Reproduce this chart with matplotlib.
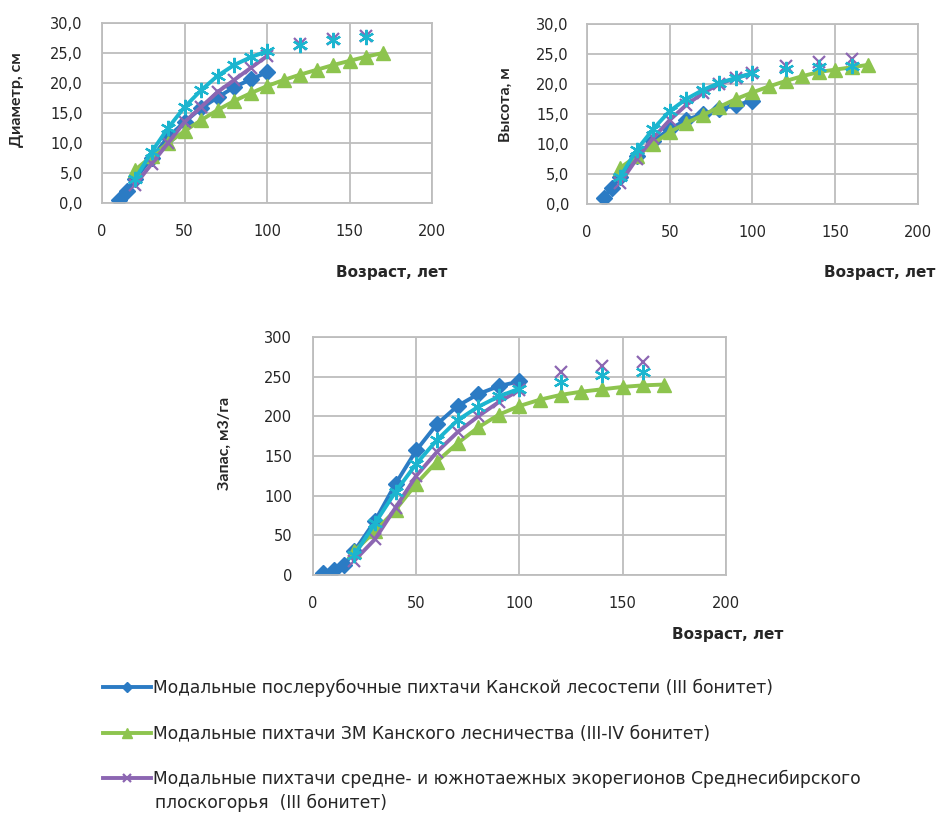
import numpy as np
import matplotlib
matplotlib.use("Agg")
import matplotlib.pyplot as plt
from matplotlib.lines import Line2D
from matplotlib.ticker import FuncFormatter

plt.rcParams["font.family"] = ["DejaVu Sans"]

# --- данные ---
# послерубочные пихтачи Канской лесостепи (III бонитет)
age_blue = [10, 15, 20, 30, 40, 50, 60, 70, 80, 90, 100]
d_blue = [0.5, 2.0, 4.0, 7.5, 11.0, 13.5, 15.8, 17.6, 19.3, 20.6, 21.8]
h_blue = [1.0, 2.7, 4.5, 8.0, 10.5, 12.5, 14.0, 15.0, 15.8, 16.5, 17.2]
age_blue_v = [5, 10, 15, 20, 30, 40, 50, 60, 70, 80, 90, 100]
v_blue = [2, 6, 12, 30, 68, 115, 157, 190, 213, 228, 238, 244]

# пихтачи ЗМ Канского лесничества (III-IV бонитет)
age_green = [20, 30, 40, 50, 60, 70, 80, 90, 100, 110, 120, 130, 140, 150, 160, 170]
d_green = [5.5, 7.8, 10.0, 12.0, 13.8, 15.5, 17.0, 18.3, 19.5, 20.5, 21.4, 22.2, 23.0, 23.7, 24.4, 25.0]
h_green = [6.0, 8.0, 10.0, 12.0, 13.5, 14.8, 16.2, 17.5, 18.6, 19.6, 20.5, 21.3, 22.0, 22.4, 22.8, 23.2]
v_green = [30, 55, 82, 115, 143, 166, 186, 202, 213, 221, 227, 231, 234, 237, 239, 240]

# пихтачи средне- и южнотаежных экорегионов
age_purple = [20, 30, 40, 50, 60, 70, 80, 90, 100, 120, 140, 160]
d_purple = [3.0, 6.5, 10.0, 13.5, 16.0, 18.5, 20.5, 22.5, 24.5, 26.5, 27.3, 27.9]
h_purple = [3.5, 7.5, 11.0, 14.0, 16.5, 18.5, 20.0, 21.0, 21.8, 23.0, 23.6, 24.2]
v_purple = [18, 45, 85, 125, 155, 180, 200, 218, 233, 256, 263, 268]

# четвертый ряд (без подписи в легенде)
age_cyan = [20, 30, 40, 50, 60, 70, 80, 90, 100, 120, 140, 160]
d_cyan = [4.0, 8.5, 12.5, 16.0, 18.8, 21.2, 23.0, 24.3, 25.3, 26.4, 27.2, 27.6]
h_cyan = [4.5, 9.0, 12.5, 15.5, 17.5, 19.0, 20.2, 21.0, 21.8, 22.5, 22.8, 23.0]
v_cyan = [25, 65, 105, 140, 170, 195, 212, 225, 235, 243, 252, 256]

labels = [
    "Модальные послерубочные пихтачи Канской лесостепи (III бонитет)",
    "Модальные пихтачи ЗМ Канского лесничества (III-IV бонитет)",
    "Модальные пихтачи средне- и южнотаежных экорегионов Среднесибирского",
]
label_cont = "плоскогорья  (III бонитет)"

BLUE = "#2B7BC4"
GREEN = "#8DC44E"
PURPLE = "#8C66B2"
CYAN = "#1CB5CF"
GRID = "#BDBDBD"
TXT = "#262626"

styles = {
    "blue": dict(color=BLUE, marker="D", markersize=8, lw=2.8),
    "green": dict(color=GREEN, marker="^", markersize=10, lw=2.8),
    "purple": dict(color=PURPLE, marker="x", markersize=9, mew=1.6, lw=2.8),
    "cyan": dict(color=CYAN, marker=(6, 2, 0), markersize=11, mew=1.6, lw=2.8),
}


def ryad(ax, x, y, st, sep=True):
    x = np.asarray(x)
    y = np.asarray(y)
    if sep:
        # после 100 лет - только точки, без линии
        m = x <= 100
        ax.plot(x[m], y[m], **st)
        ax.plot(x[~m], y[~m], ls="none", **{k: v for k, v in st.items() if k != "lw"})
    else:
        ax.plot(x, y, **st)


def oformit(ax, ymax, ystep, fmt, pad_y):
    ax.set_xlim(0, 200)
    ax.set_ylim(0, ymax)
    ax.set_xticks(np.arange(0, 201, 50))
    ax.set_yticks(np.arange(0, ymax + 0.1, ystep))
    ax.yaxis.set_major_formatter(FuncFormatter(fmt))
    ax.grid(True, color=GRID, lw=1.3)
    ax.set_axisbelow(True)
    for s in ax.spines.values():
        s.set_color(GRID)
        s.set_linewidth(1.3)
    ax.tick_params(length=0, labelsize=10.5, colors=TXT)
    ax.tick_params(axis="x", pad=15)
    ax.tick_params(axis="y", pad=pad_y)


fig = plt.figure(figsize=(9.36, 8.18), dpi=100)
fig.patch.set_facecolor("white")

ax1 = fig.add_axes([0.109, 0.7518, 0.3526, 0.2200])
ax2 = fig.add_axes([0.6271, 0.7506, 0.3536, 0.2200])
ax3 = fig.add_axes([0.3344, 0.2971, 0.4412, 0.2910])

fmt1 = lambda v, p: f"{v:.1f}".replace(".", ",")
fmt3 = lambda v, p: f"{v:.0f}"

for ax, yb, yg, yp, yc, xb in [
    (ax1, d_blue, d_green, d_purple, d_cyan, age_blue),
    (ax2, h_blue, h_green, h_purple, h_cyan, age_blue),
    (ax3, v_blue, v_green, v_purple, v_cyan, age_blue_v),
]:
    ryad(ax, xb, yb, styles["blue"], sep=False)
    ryad(ax, age_green, yg, styles["green"], sep=False)
    ryad(ax, age_purple, yp, styles["purple"])
    ryad(ax, age_cyan, yc, styles["cyan"])

oformit(ax1, 30, 5, fmt1, 14)
oformit(ax2, 30, 5, fmt1, 13)
oformit(ax3, 300, 50, fmt3, 15)

# подписи осей
ylab = dict(rotation=90, ha="center", va="center", fontsize=11.5,
            fontweight="bold", color=TXT, family=["Lato", "DejaVu Sans"])
fig.text(17 / 936, 1 - 100 / 818, "Диаметр, см", **ylab)
fig.text(506 / 936, 1 - 105 / 818, "Высота, м", **ylab)
fig.text(225 / 936, 1 - 443 / 818, "Запас, м3/га", **ylab)
xlab = dict(ha="center", va="center", fontsize=11, fontweight="bold", color=TXT)
fig.text(392 / 936, 1 - 272 / 818, "Возраст, лет", **xlab)
fig.text(880 / 936, 1 - 272 / 818, "Возраст, лет", **xlab)
fig.text(728 / 936, 1 - 634 / 818, "Возраст, лет", **xlab)

# легенда
handles = [Line2D([], [], **styles[k]) for k in ("blue", "green", "purple")]
for h in handles:
    h.set_markersize(h.get_markersize() * 0.7)
fig.legend(handles, labels, loc="upper left", bbox_to_anchor=(0.110, 0.170),
           frameon=False, fontsize=12.3, handlelength=2.8, handletextpad=0.15,
           labelspacing=1.6, labelcolor=TXT, borderaxespad=0, borderpad=0)
fig.text(155 / 936, 1 - 803 / 818, label_cont, ha="left", va="center",
         fontsize=12.3, color=TXT)

fig.savefig("out.png", dpi=100, facecolor="white")
